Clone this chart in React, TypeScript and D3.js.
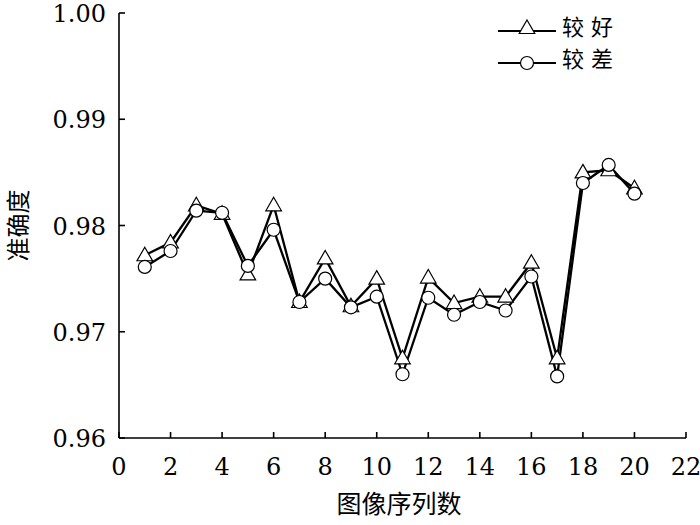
import { useEffect, useRef } from "react";
import * as d3 from "d3";

const imageIndex = [1, 2, 3, 4, 5, 6, 7, 8, 9, 10, 11, 12, 13, 14, 15, 16, 17, 18, 19, 20];
const goodValues = [
  0.9772, 0.9784, 0.9819, 0.9811, 0.9754, 0.9819, 0.9728, 0.9769, 0.9724, 0.975,
  0.9675, 0.9751, 0.9727, 0.9733, 0.9733, 0.9765, 0.9675, 0.985, 0.9852, 0.9835,
];
const poorValues = [
  0.9761, 0.9776, 0.9814, 0.9812, 0.9762, 0.9796, 0.9728, 0.975, 0.9723, 0.9733,
  0.966, 0.9732, 0.9716, 0.9728, 0.972, 0.9752, 0.9658, 0.984, 0.9857, 0.983,
];
const xTicks = [0, 2, 4, 6, 8, 10, 12, 14, 16, 18, 20, 22];
const yTicks = [0.96, 0.97, 0.98, 0.99, 1.0];
const seriesNames = ["较好", "较差"];

const W = 700;
const H = 525;
const serif = "DejaVu Serif";
const cjk = "Noto Sans CJK SC";

const App = () => {
  const svgRef = useRef<SVGSVGElement | null>(null);

  useEffect(() => {
    const svg = d3.select(svgRef.current);
    svg.selectAll("*").remove();

    const x = d3.scaleLinear().domain([0, 22]).range([119, 686]);
    const y = d3.scaleLinear().domain([0.96, 1.0]).range([438, 13]);

    // axes
    const g = svg.append("g");
    g.append("line")
      .attr("x1", x(0)).attr("x2", x(0))
      .attr("y1", y(1.0)).attr("y2", y(0.96))
      .attr("stroke", "#000").attr("stroke-width", 1.6);
    g.append("line")
      .attr("x1", x(0)).attr("x2", x(22))
      .attr("y1", y(0.96)).attr("y2", y(0.96))
      .attr("stroke", "#000").attr("stroke-width", 1.6);

    g.selectAll(".xt")
      .data(xTicks)
      .join("line")
      .attr("x1", (d) => x(d)).attr("x2", (d) => x(d))
      .attr("y1", y(0.96)).attr("y2", y(0.96) - 6)
      .attr("stroke", "#000").attr("stroke-width", 1.6);
    g.selectAll(".xl")
      .data(xTicks)
      .join("text")
      .attr("x", (d) => x(d))
      .attr("y", y(0.96) + 37)
      .attr("text-anchor", "middle")
      .attr("font-family", serif)
      .attr("font-size", 24)
      .text((d) => d);

    g.selectAll(".yt")
      .data(yTicks)
      .join("line")
      .attr("x1", x(0)).attr("x2", x(0) + 6)
      .attr("y1", (d) => y(d)).attr("y2", (d) => y(d))
      .attr("stroke", "#000").attr("stroke-width", 1.6);
    g.selectAll(".yl")
      .data(yTicks)
      .join("text")
      .attr("x", x(0) - 13)
      .attr("y", (d) => y(d) + 9)
      .attr("text-anchor", "end")
      .attr("font-family", serif)
      .attr("font-size", 24)
      .text((d) => d3.format(".2f")(d));

    g.append("text")
      .attr("x", 399).attr("y", 513)
      .attr("text-anchor", "middle")
      .attr("font-family", cjk)
      .attr("font-size", 25)
      .text("图像序列数");
    g.append("text")
      .attr("transform", `translate(27,${y(0.98)}) rotate(-90)`)
      .attr("text-anchor", "middle")
      .attr("font-family", cjk)
      .attr("font-size", 24)
      .text("准确度");

    const line = d3
      .line<number>()
      .x((_, i) => x(imageIndex[i]))
      .y((d) => y(d));

    const tri = d3.symbol().type(d3.symbolTriangle).size(105);

    [goodValues, poorValues].forEach((vals) => {
      svg.append("path")
        .attr("d", line(vals))
        .attr("fill", "none")
        .attr("stroke", "#000")
        .attr("stroke-width", 2.3);
    });

    svg.selectAll(".tri")
      .data(goodValues)
      .join("path")
      .attr("d", tri)
      .attr("transform", (d, i) => `translate(${x(imageIndex[i])},${y(d) + 1})`)
      .attr("fill", "#fff")
      .attr("stroke", "#000")
      .attr("stroke-width", 1.2);

    svg.selectAll(".circ")
      .data(poorValues)
      .join("circle")
      .attr("cx", (_, i) => x(imageIndex[i]))
      .attr("cy", (d) => y(d))
      .attr("r", 6.5)
      .attr("fill", "#fff")
      .attr("stroke", "#000")
      .attr("stroke-width", 1.2);

    // legend
    const leg = svg.append("g");
    const rowY = (i: number) => 31 + i * 32;
    seriesNames.forEach((name, i) => {
      const ly = rowY(i);
      leg.append("line")
        .attr("x1", 498).attr("x2", 556)
        .attr("y1", ly).attr("y2", ly)
        .attr("stroke", "#000").attr("stroke-width", 2);
      if (i === 0) {
        leg.append("path")
          .attr("d", tri)
          .attr("transform", `translate(527,${ly - 2})`)
          .attr("fill", "#fff").attr("stroke", "#000").attr("stroke-width", 1.2);
      } else {
        leg.append("circle")
          .attr("cx", 527).attr("cy", ly).attr("r", 6.5)
          .attr("fill", "#fff").attr("stroke", "#000").attr("stroke-width", 1.2);
      }
      leg.append("text")
        .attr("x", 562).attr("y", ly + 4)
        .attr("font-family", cjk)
        .attr("font-size", 22)
        .attr("letter-spacing", 7)
        .text(name);
    });
  }, []);

  return (
    <svg
      ref={svgRef}
      width={W}
      height={H}
      style={{ position: "absolute", left: 0, top: 0, background: "#fff" }}
    />
  );
};

export default App;
